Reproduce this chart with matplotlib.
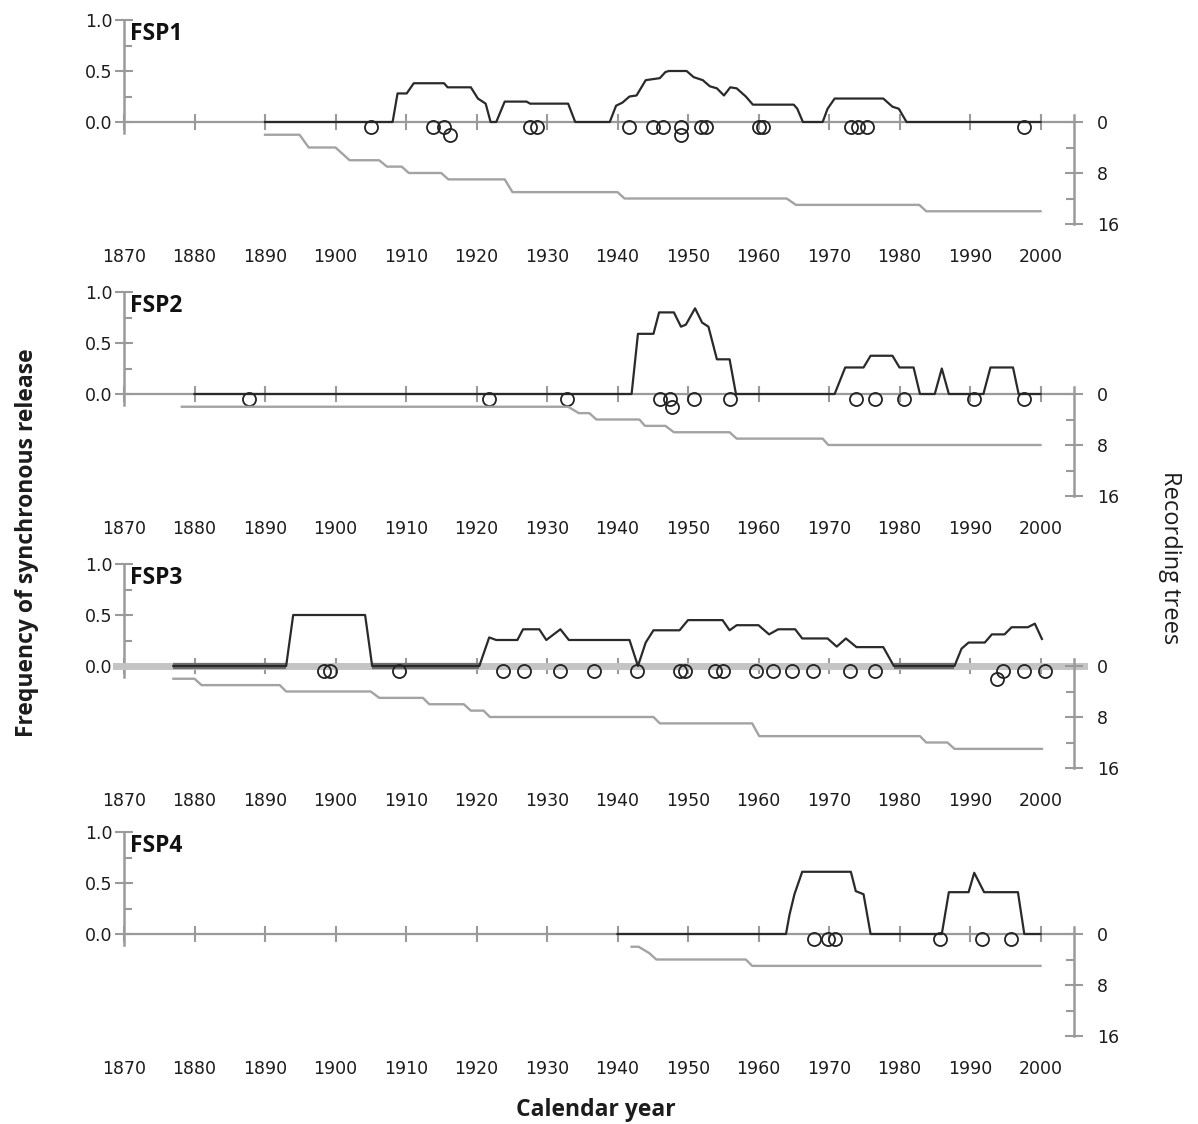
import matplotlib
matplotlib.use("Agg")
import matplotlib.pyplot as plt
from matplotlib.ticker import FormatStrFormatter


# FSP1: frequency of synchronous release (line vertices), recording trees, release years
FSP1_FREQ_YEARS = [1890, 1908.1, 1908.8, 1910.1, 1911.1, 1915.4, 1915.9, 1919.2, 1920.2, 1921.3,
                   1922.0, 1922.8, 1924.0, 1927.1, 1927.6, 1933.0, 1934.0, 1938.9, 1939.8, 1940.7,
                   1941.7, 1942.7, 1944.0, 1946.0, 1946.8, 1947.3, 1949.8, 1950.8, 1952.1, 1953.1,
                   1954.1, 1955.1, 1956.0, 1956.9, 1958.2, 1959.2, 1965.0, 1965.5, 1966.3, 1969.1,
                   1969.8, 1970.8, 1977.7, 1979.0, 1979.9, 1981.0, 2000]
FSP1_FREQ = [0, 0, 0.28, 0.28, 0.38, 0.38, 0.34, 0.34, 0.23, 0.18,
             0, 0, 0.2, 0.2, 0.18, 0.18, 0, 0, 0.16, 0.19,
             0.25, 0.26, 0.41, 0.43, 0.49, 0.5, 0.5, 0.44, 0.41, 0.35,
             0.33, 0.26, 0.34, 0.33, 0.25, 0.17, 0.17, 0.13, 0, 0,
             0.13, 0.23, 0.23, 0.15, 0.13, 0, 0]
FSP1_TREE_YEARS = [1890, 1894.9, 1896.2, 1900.0, 1902.0, 1906.2, 1907.3, 1909.4, 1910.4, 1915.0,
                   1916.0, 1924.0, 1925.1, 1940.0, 1941.0, 1964.0, 1965.3, 1982.8, 1983.8, 2000]
FSP1_TREES = [2, 2, 4, 4, 6, 6, 7, 7, 8, 8, 9, 9, 11, 11, 12, 12, 13, 13, 14, 14]
FSP1_EVENTS = [1905.0, 1913.9, 1915.4, 1927.6, 1928.6, 1941.7, 1945.1, 1946.5, 1949.0,
               1951.9, 1952.5, 1960.0, 1960.7, 1973.1, 1974.1, 1975.4, 1997.7]
FSP1_EVENTS_2ND = [1916.2, 1949.0]

# FSP2
FSP2_FREQ_YEARS = [1880, 1942.0, 1942.9, 1945.1, 1945.9, 1948.0, 1949.0, 1949.7, 1951.0, 1952.0,
                   1952.9, 1954.1, 1955.9, 1956.8, 1970.8, 1972.3, 1974.9, 1975.9, 1979.0, 1980.0,
                   1982.0, 1982.9, 1985.0, 1986.0, 1987.0, 1991.9, 1992.9, 1996.1, 1996.9, 2000]
FSP2_FREQ = [0, 0, 0.59, 0.59, 0.8, 0.8, 0.66, 0.68, 0.84, 0.7,
             0.66, 0.34, 0.34, 0, 0, 0.26, 0.26, 0.375, 0.375, 0.26,
             0.26, 0, 0, 0.25, 0, 0, 0.26, 0.26, 0, 0]
FSP2_TREE_YEARS = [1878.2, 1933.0, 1934.5, 1936.0, 1937.0, 1943.1, 1943.9, 1946.8, 1948.0,
                   1955.9, 1956.9, 1969.1, 1969.9, 2000]
FSP2_TREES = [2, 2, 3, 3, 4, 4, 5, 5, 6, 6, 7, 7, 8, 8]
FSP2_EVENTS = [1887.8, 1921.8, 1932.8, 1946.0, 1947.4, 1950.8, 1955.9, 1973.8, 1976.5,
               1980.6, 1990.6, 1997.7]
FSP2_EVENTS_2ND = [1947.8]

# FSP3
FSP3_FREQ_YEARS = [1877.0, 1893.0, 1894.0, 1904.2, 1905.2, 1920.4, 1921.8, 1922.8, 1925.8, 1926.6,
                   1928.9, 1929.9, 1931.9, 1933.1, 1941.7, 1942.9, 1944.0, 1945.1, 1948.8, 1950.0,
                   1954.9, 1955.9, 1956.9, 1960.0, 1961.5, 1962.8, 1965.2, 1966.2, 1969.8, 1971.1,
                   1972.4, 1973.9, 1977.7, 1979.2, 1987.8, 1988.8, 1989.8, 1992.1, 1993.1, 1994.9,
                   1995.9, 1998.2, 1999.2, 2000.2]
FSP3_FREQ = [0, 0, 0.5, 0.5, 0, 0, 0.28, 0.255, 0.255, 0.36,
             0.36, 0.255, 0.36, 0.255, 0.255, 0, 0.23, 0.35, 0.35, 0.45,
             0.45, 0.35, 0.4, 0.4, 0.31, 0.36, 0.36, 0.27, 0.27, 0.19,
             0.27, 0.185, 0.185, 0, 0, 0.17, 0.23, 0.23, 0.31, 0.31,
             0.38, 0.38, 0.415, 0.265]
FSP3_TREE_YEARS = [1877.0, 1880.0, 1881.0, 1892.1, 1893.0, 1905.0, 1906.2, 1912.4, 1913.3,
                   1918.2, 1919.2, 1921.0, 1921.9, 1945.1, 1946.0, 1959.1, 1960.1, 1982.9,
                   1983.8, 1986.8, 1987.8, 2000.2]
FSP3_TREES = [2, 2, 3, 3, 4, 4, 5, 5, 6, 6, 7, 7, 8, 8, 9, 9, 11, 11, 12, 12, 13, 13]
FSP3_EVENTS = [1898.4, 1899.2, 1909.0, 1923.8, 1926.8, 1931.9, 1936.7, 1942.7, 1948.8,
               1949.6, 1953.9, 1954.9, 1959.7, 1962.0, 1964.8, 1967.8, 1973.0, 1976.5,
               1994.7, 1997.7, 2000.7]
FSP3_EVENTS_2ND = [1993.9]

# FSP4
FSP4_FREQ_YEARS = [1940.0, 1963.9, 1964.4, 1965.1, 1966.2, 1973.1, 1973.8, 1974.9, 1975.9,
                   1986.0, 1987.0, 1989.8, 1990.6, 1992.0, 1996.8, 1997.7, 2000]
FSP4_FREQ = [0, 0, 0.19, 0.39, 0.61, 0.61, 0.42, 0.39, 0,
             0, 0.41, 0.41, 0.6, 0.41, 0.41, 0, 0]
FSP4_TREE_YEARS = [1942.0, 1943.0, 1944.5, 1945.5, 1958.2, 1959.1, 2000]
FSP4_TREES = [2, 2, 3, 4, 4, 5, 5]
FSP4_EVENTS = [1967.9, 1969.8, 1970.8, 1985.8, 1991.7, 1995.8]
FSP4_EVENTS_2ND = []

PANEL_NAMES = ["FSP1", "FSP2", "FSP3", "FSP4"]
DECADES = list(range(1870, 2001, 10))

PANELS = [
    (FSP1_FREQ_YEARS, FSP1_FREQ, FSP1_TREE_YEARS, FSP1_TREES, FSP1_EVENTS, FSP1_EVENTS_2ND),
    (FSP2_FREQ_YEARS, FSP2_FREQ, FSP2_TREE_YEARS, FSP2_TREES, FSP2_EVENTS, FSP2_EVENTS_2ND),
    (FSP3_FREQ_YEARS, FSP3_FREQ, FSP3_TREE_YEARS, FSP3_TREES, FSP3_EVENTS, FSP3_EVENTS_2ND),
    (FSP4_FREQ_YEARS, FSP4_FREQ, FSP4_TREE_YEARS, FSP4_TREES, FSP4_EVENTS, FSP4_EVENTS_2ND),
]

# page geometry in pixels
W, H = 1198, 1124
LEFT_PX, RIGHT_PX = 124, 1074
PX_PER_YEAR = 7.05
ZERO_PX = [122, 394, 666, 934]
UNIT_PX = 102          # pixels per 1.0 frequency (= 16 trees)
Y_LO, Y_HI = -1.1, 1.06
MAX_TREES = 16

AXIS_GREY = "#9a9a9a"
LINE_BLACK = "#2a2a2a"
TREE_GREY = "#a3a3a3"
TEXT_DARK = "#1c1c1c"
LABEL_FONT = ["Open Sans", "DejaVu Sans"]
TICK_SIZE = 12.5

plt.rcParams["font.family"] = ["DejaVu Sans"]

fig = plt.figure(figsize=(W / 100, H / 100), dpi=100)
fig.patch.set_facecolor("white")

x_hi = 1870 + (RIGHT_PX - LEFT_PX) / PX_PER_YEAR

for i, (fy, fv, ty, tv, ev, ev2) in enumerate(PANELS):
    top = ZERO_PX[i] - Y_HI * UNIT_PX
    bottom = ZERO_PX[i] - Y_LO * UNIT_PX
    ax = fig.add_axes([LEFT_PX / W, 1 - bottom / H, (RIGHT_PX - LEFT_PX) / W, (bottom - top) / H])
    ax.set_facecolor("none")
    ax.set_xlim(1870, x_hi)
    ax.set_ylim(Y_LO, Y_HI)

    tw = ax.twinx()
    tw.set_ylim(-MAX_TREES * Y_LO, -MAX_TREES * Y_HI)

    # spines
    for side in ("top", "right"):
        ax.spines[side].set_visible(False)
    for side in ("top", "left", "bottom"):
        tw.spines[side].set_visible(False)
    ax.spines["left"].set_bounds(-0.11, 1.0)
    ax.spines["bottom"].set_position(("data", 0))
    if i == 2:
        # the FSP3 baseline is a broad pale band running past both axes
        ax.spines["bottom"].set_bounds(1868.9, 2006.1)
        ax.spines["bottom"].set_linewidth(5)
        ax.spines["bottom"].set_color("#c4c4c4")
    else:
        ax.spines["bottom"].set_linewidth(1.6)
        ax.spines["bottom"].set_color(AXIS_GREY)
    ax.spines["left"].set_linewidth(1.8)
    ax.spines["left"].set_color(AXIS_GREY)
    tw.spines["right"].set_bounds(-1.1, MAX_TREES)
    tw.spines["right"].set_linewidth(1.8)
    tw.spines["right"].set_color(AXIS_GREY)

    # left axis: frequency
    ax.set_yticks([0, 0.5, 1.0])
    ax.set_yticks([0.25, 0.75], minor=True)
    ax.yaxis.set_major_formatter(FormatStrFormatter("%.1f"))
    ax.tick_params(axis="y", which="major", direction="inout", length=13, width=1.5,
                   color=AXIS_GREY, labelsize=TICK_SIZE, labelcolor=TEXT_DARK, pad=2)
    ax.tick_params(axis="y", which="minor", direction="in", length=6, width=1.5, color=AXIS_GREY)

    # baseline ticks at each decade
    ax.set_xticks(DECADES)
    ax.tick_params(axis="x", which="major", direction="inout", length=12, width=1.5,
                   color=AXIS_GREY, labelbottom=False)

    # right axis: recording trees
    tw.set_yticks([0, 8, 16])
    tw.set_yticks([4, 12], minor=True)
    tw.tick_params(axis="y", which="major", direction="inout", length=13, width=1.5,
                   color=AXIS_GREY, labelsize=TICK_SIZE, labelcolor=TEXT_DARK, pad=10)
    tw.tick_params(axis="y", which="minor", direction="in", length=6, width=1.5, color=AXIS_GREY)

    # year labels below the panel
    lab_y = (-1.24 - Y_LO) / (Y_HI - Y_LO)
    sec = ax.secondary_xaxis(lab_y)
    sec.set_xticks(DECADES)
    sec.tick_params(length=0, pad=0, labelsize=TICK_SIZE, labelcolor=TEXT_DARK)
    for sp in sec.spines.values():
        sp.set_visible(False)

    # recording trees (grey) and frequency (black)
    tw.plot(ty, tv, color=TREE_GREY, lw=1.7, solid_joinstyle="round", zorder=2)
    if i == 2:
        for k in range(len(fv) - 1):
            if fv[k] == 0 and fv[k + 1] == 0:
                ax.plot(fy[k:k + 2], fv[k:k + 2], color="#6e6e6e", lw=4.5,
                        solid_capstyle="butt", zorder=3)
    ax.plot(fy, fv, color=LINE_BLACK, lw=1.6, solid_joinstyle="round", zorder=4)

    # release years as open circles just below the baseline
    ax.plot(ev, [-0.045] * len(ev), "o", ms=9.4, mfc="none", mec="#222222", mew=1.3,
            clip_on=False, zorder=5)
    if ev2:
        ax.plot(ev2, [-0.13] * len(ev2), "o", ms=9.4, mfc="none", mec="#222222", mew=1.3,
                clip_on=False, zorder=5)

    ax.text(1870.8, 0.86, PANEL_NAMES[i], family=LABEL_FONT, fontweight="bold",
            fontsize=16.5, va="center", ha="left", color="#111111")

fig.text(27 / W, 1 - 543 / H, "Frequency of synchronous release", family=LABEL_FONT,
         fontweight="bold", fontsize=16.5, rotation=90, ha="center", va="center", color=TEXT_DARK)
fig.text(1170 / W, 1 - 558 / H, "Recording trees", family=LABEL_FONT,
         fontsize=17, rotation=270, ha="center", va="center", color=TEXT_DARK)
fig.text(596 / W, 1 - 1110 / H, "Calendar year", family=LABEL_FONT,
         fontweight="bold", fontsize=16.5, ha="center", va="center", color=TEXT_DARK)

fig.savefig("out.png", dpi=100, facecolor="white")
